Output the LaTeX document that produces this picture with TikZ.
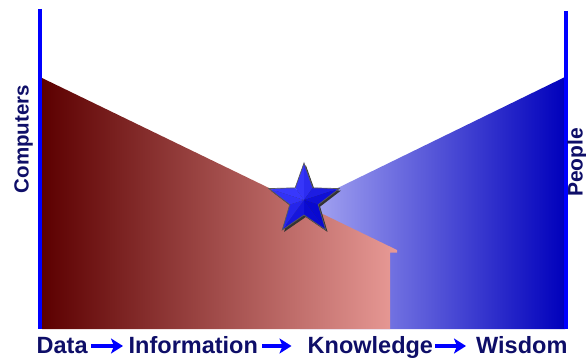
\documentclass[tikz,border=0pt]{standalone}
\usepackage{fontspec}
\setmainfont{Liberation Sans}
\usetikzlibrary{arrows.meta,calc}
\definecolor{axisblue}{RGB}{0,0,255}
\definecolor{reddark}{RGB}{92,0,0}
\definecolor{redlight}{RGB}{232,154,150}
\definecolor{bluelight}{RGB}{172,172,244}
\definecolor{bluedark}{RGB}{0,0,188}
\definecolor{navy}{RGB}{14,14,104}
\definecolor{starlight}{RGB}{60,60,255}
\definecolor{stardark}{RGB}{0,0,200}
\begin{document}
\begin{tikzpicture}[x=1pt,y=-1pt,
  lbl/.style={font=\fontsize{23.5}{24}\selectfont\bfseries, text=navy, inner sep=0pt},
  axisline/.style={draw=axisblue, line width=4pt},
  conn/.style={draw=axisblue, line width=4.5pt, -{Stealth[length=12pt,width=15pt,inset=3pt]}}]
\useasboundingbox (0,0) rectangle (586,358);

% blue area (behind)
\shade[left color=bluelight, right color=bluedark]
  (300,206.4) -- (565,77) -- (565,329) -- (300,329) -- cycle;
% red area (front)
\shade[left color=reddark, right color=redlight]
  (42,78) -- (397,250) -- (397,252.5) -- (390,252.5) -- (390,329) -- (42,329) -- cycle;

% axes
\coordinate (lt) at (40,9);
\coordinate (lb) at (40,329);
\coordinate (rt) at (566,11);
\coordinate (rb) at (566,329);
\draw[axisline] (lt) -- (lb);
\draw[axisline] (rt) -- (rb);

% star
\coordinate (sc) at (304,200);
\fill[black!80, shift={(305.8,202)}]
  (-90:37) -- (-54:15) -- (-18:37) -- (18:15) -- (54:37) -- (90:15) --
  (126:37) -- (162:15) -- (198:37) -- (234:15) -- cycle;
\foreach \k in {0,...,4}{
  \pgfmathsetmacro{\a}{-90+72*\k}
  \pgfmathsetmacro{\pa}{int(55+40*cos(\a-18+135))}
  \pgfmathsetmacro{\pb}{int(55+40*cos(\a+18+135))}
  \fill[starlight!\pa!stardark, shift={(sc)}] (0,0) -- (\a-36:15) -- (\a:37) -- cycle;
  \fill[starlight!\pb!stardark, shift={(sc)}] (0,0) -- (\a:37) -- (\a+36:15) -- cycle;
}
\draw[black!65, line width=0.7pt, line join=miter, shift={(sc)}]
  (-90:37) -- (-54:15) -- (-18:37) -- (18:15) -- (54:37) -- (90:15) --
  (126:37) -- (162:15) -- (198:37) -- (234:15) -- cycle;

% side labels
\node[lbl, font=\fontsize{20.5}{21}\selectfont\bfseries, rotate=90, anchor=base] (comp) at (28.7,139) {Computers};
\node[lbl, font=\fontsize{21}{22}\selectfont\bfseries, rotate=90, anchor=base] (ppl) at (582.5,162.5) {People};

% bottom labels
\node[lbl, anchor=base west] (data) at (36.5,353) {Data};
\node[lbl, anchor=base west] (info) at (128.5,353) {Information};
\node[lbl, anchor=base west] (know) at (307.5,353) {Knowledge};
\node[lbl, anchor=base west] (wis) at (476,353) {Wisdom};

\draw[conn] ($(data.base east)+(3,-7)$) -- ($(info.base west)+(-5.5,-7)$);
\draw[conn] ($(info.base east)+(4,-7)$) -- ($(know.base west)+(-16,-7)$);
\draw[conn] ($(know.base east)+(2,-7)$) -- ($(wis.base west)+(-10,-7)$);
\end{tikzpicture}
\end{document}
